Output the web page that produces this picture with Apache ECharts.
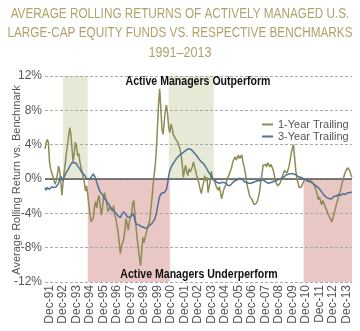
<!DOCTYPE html>
<html><head><meta charset="utf-8">
<script src="https://cdn.jsdelivr.net/npm/echarts@6/dist/echarts.min.js"></script>
<style>html,body{margin:0;padding:0;background:#fff}#c{width:360px;height:331px}</style>
</head><body><div id="c"></div>
<script>
// Monthly data, Aug-1991 .. May-2014 (percent vs. benchmark)
const startYear = 1991;
const startMonthIndex = 7; // Aug
const monthNames = ['Jan','Feb','Mar','Apr','May','Jun','Jul','Aug','Sep','Oct','Nov','Dec'];

const oneYearTrailing = [
 3.5,4.2,4.6,4.3,2.0,1.2,1.0,0.3,-0.2,-0.6,
 -0.2,0.5,1.5,1.0,-0.2,-1.9,-0.5,0.8,1.8,3.0,
 3.9,5.0,6.0,5.2,3.6,2.0,3.0,4.3,3.8,2.7,
 3.0,2.0,1.4,0.8,0.2,-0.4,-1.4,-0.8,-1.8,-3.0,
 -4.2,-5.0,-5.2,-4.5,-3.3,-2.6,-3.4,-2.4,-1.9,-3.0,
 -4.2,-3.5,-2.2,-1.6,-2.2,-3.0,-3.8,-3.6,-3.2,-3.0,
 -3.8,-3.1,-4.2,-4.6,-5.4,-6.2,-7.4,-8.7,-7.8,-7.6,
 -7.0,-6.1,-4.6,-5.2,-6.0,-5.0,-4.5,-4.2,-2.8,-2.5,
 -4.2,-5.6,-7.0,-8.0,-9.2,-10.1,-8.4,-6.8,-7.4,-7.2,
 -6.3,-5.7,-5.3,-4.9,-3.6,-2.4,-0.9,0.4,1.6,3.3,
 6.0,8.8,10.5,8.2,5.8,5.2,6.6,8.0,8.6,7.6,
 6.0,5.4,6.4,6.0,5.2,5.0,4.7,4.9,4.3,3.9,
 3.5,2.8,1.8,0.2,1.0,1.6,0.8,0.4,1.2,0.8,
 0.6,1.4,2.0,1.8,0.9,0.3,0.0,-0.6,-1.2,-1.7,
 -1.0,-0.4,0.4,-0.2,0.2,-1.6,-0.9,-0.2,0.9,0.0,
 -0.1,-0.3,-0.8,-1.0,-1.3,-0.9,-1.5,-2.3,-1.8,-1.2,
 -0.9,-0.6,0.0,0.3,0.6,1.0,1.4,2.0,2.3,2.6,
 2.2,2.4,2.8,2.4,2.6,2.8,2.0,1.5,0.8,-0.1,
 -0.9,-1.4,-2.0,-2.2,-2.4,-2.7,-3.0,-3.2,-2.8,-2.5,
 -2.0,-1.3,-0.2,0.6,1.6,1.8,1.7,1.4,1.9,1.7,
 1.4,1.7,1.5,1.0,0.4,-0.3,-0.5,-0.8,-0.6,-0.5,
 -0.1,0.3,0.5,1.0,0.8,0.7,1.0,1.5,2.2,3.0,
 3.6,4.0,2.4,1.0,0.0,-0.4,-1.0,-1.2,-0.9,-0.6,
 -0.3,0.0,-0.2,-0.2,0.0,-0.1,-0.2,-0.3,-0.5,-0.6,
 -0.9,-1.3,-1.8,-2.4,-2.1,-2.0,-3.0,-2.5,-2.8,-3.2,
 -3.4,-3.8,-4.2,-4.4,-4.7,-5.0,-4.6,-4.0,-3.6,-3.0,
 -2.6,-2.0,-1.7,-1.2,-0.6,-0.1,0.4,0.8,1.0,1.3,
 1.4,1.0,0.5,0.2
];

const threeYearTrailing = [
 -1.0,-1.3,-1.0,-0.8,-1.2,-1.0,-0.9,-1.1,-1.0,-0.9,
 -0.9,-0.7,-0.5,-0.1,0.3,0.2,-0.2,0.2,0.4,0.8,
 1.0,1.2,1.5,1.7,1.9,1.8,1.9,2.0,1.8,1.5,
 1.4,1.2,0.9,0.8,0.6,0.4,0.3,0.0,-0.2,0.0,
 0.1,0.2,0.4,0.6,0.5,0.1,-0.4,-0.8,-1.0,-1.5,
 -1.7,-1.8,-2.0,-2.3,-2.2,-2.6,-2.8,-3.0,-3.2,-3.5,
 -3.6,-3.6,-3.8,-4.0,-4.1,-4.3,-4.4,-4.5,-4.2,-4.0,
 -3.8,-4.0,-4.2,-4.3,-4.5,-4.6,-4.4,-4.2,-4.0,-4.3,
 -4.8,-5.3,-5.4,-5.3,-5.4,-5.5,-5.4,-5.6,-5.7,-5.7,
 -5.8,-5.7,-5.5,-5.4,-5.3,-5.2,-5.0,-4.8,-4.5,-4.0,
 -3.3,-2.6,-2.0,-1.8,-1.6,-1.5,-1.6,-1.4,-1.2,-0.5,
 0.4,1.0,1.3,1.6,1.8,2.0,2.2,2.4,2.5,2.7,
 2.8,2.9,3.0,3.1,3.2,3.3,3.3,3.5,3.6,3.5,
 3.4,3.3,3.1,3.0,2.9,2.7,2.5,2.3,2.1,2.0,
 1.9,1.8,1.6,1.4,1.2,0.9,0.7,0.5,0.3,0.1,
 -0.1,-0.2,-0.3,-0.4,-0.4,-0.5,-0.5,-0.4,-0.3,-0.4,
 -0.5,-0.5,-0.6,-0.8,-0.8,-0.7,-0.5,-0.4,-0.3,-0.2,
 -0.1,-0.1,0.0,0.1,0.1,0.0,-0.2,-0.3,-0.3,-0.4,
 -0.5,-0.5,-0.5,-0.5,-0.4,-0.4,-0.4,-0.3,-0.3,-0.2,
 -0.2,-0.2,-0.1,-0.1,-0.2,-0.2,-0.3,-0.4,-0.4,-0.5,
 -0.5,-0.4,-0.3,-0.3,-0.2,-0.2,-0.1,-0.1,0.0,0.0,
 0.1,0.1,0.2,0.3,0.4,0.5,0.5,0.6,0.6,0.6,
 0.6,0.6,0.5,0.5,0.4,0.3,0.3,0.2,0.1,0.1,
 0.0,0.0,-0.1,-0.2,-0.2,-0.3,-0.4,-0.4,-0.5,-0.6,
 -0.7,-0.8,-0.9,-1.0,-1.2,-1.3,-1.5,-1.7,-1.9,-2.0,
 -2.1,-2.2,-2.3,-2.3,-2.2,-2.3,-2.1,-2.0,-2.1,-2.0,
 -1.9,-1.8,-1.8,-1.9,-1.8,-1.7,-1.7,-1.8,-1.7,-1.6,
 -1.7,-1.6,-1.5,-1.5
];

// shaded periods [from, to] as month labels
const outperformPeriods = [['Dec-92','Oct-94'], ['Oct-00','Feb-04']];
const underperformPeriods = [['Oct-94','Nov-00'], ['Oct-10','May-14']];

const yTicks = { min: -12, max: 12, step: 4 };

const titleLines = [
  'AVERAGE ROLLING RETURNS OF ACTIVELY MANAGED U.S.',
  'LARGE-CAP EQUITY FUNDS VS. RESPECTIVE BENCHMARKS',
  '1991\u20132013'
];
const seriesNames = ['1-Year Trailing', '3-Year Trailing'];
const yAxisTitle = 'Average Rolling Return vs. Benchmark';
const noteTop = 'Active Managers Outperform';
const noteBottom = 'Active Managers Underperform';

const categories = [];
for (let k = 0; k < oneYearTrailing.length; k++) {
  const m = (startMonthIndex + k) % 12;
  const y = startYear + Math.floor((startMonthIndex + k) / 12);
  categories.push(monthNames[m] + '-' + String(y % 100).padStart(2, '0'));
}

const FONT = "'Liberation Sans', Arial, sans-serif";
const chart = echarts.init(document.getElementById('c'), null, { renderer: 'canvas' });

function txt(text, x, y, size, color, opts) {
  opts = opts || {};
  return {
    type: 'text', x: x, y: y, z: 50,
    scaleX: opts.scaleX || 1, rotation: opts.rotation || 0,
    style: {
      text: text, fill: color, fontSize: size, fontFamily: FONT,
      fontWeight: opts.bold ? 'bold' : 'normal',
      align: 'center', verticalAlign: 'middle',
      textAlign: 'center', textVerticalAlign: 'middle'
    }
  };
}

const areaData = [];
outperformPeriods.forEach(p => areaData.push([
  { xAxis: p[0], yAxis: 0, itemStyle: { color: '#e6e9d5' } },
  { xAxis: p[1], yAxis: yTicks.max }
]));
underperformPeriods.forEach(p => areaData.push([
  { xAxis: p[0], yAxis: yTicks.min, itemStyle: { color: '#e8c7c4' } },
  { xAxis: p[1], yAxis: 0 }
]));

chart.setOption({
  animation: false,
  backgroundColor: '#fff',
  grid: { left: 45, right: 8, top: 76, bottom: 49 },
  legend: {
    orient: 'vertical', left: 257, top: 114, itemWidth: 11, itemHeight: 2,
    itemGap: 1, icon: 'rect',
    textStyle: { fontSize: 11, color: '#555', fontFamily: FONT },
    data: seriesNames
  },
  xAxis: {
    type: 'category', data: categories, boundaryGap: false,
    axisLine: { show: false }, axisTick: { show: false }, splitLine: { show: false },
    axisLabel: {
      interval: (i, v) => v.indexOf('Dec') === 0,
      rotate: 90, fontSize: 12, color: '#555', margin: 3, fontFamily: FONT
    }
  },
  yAxis: {
    type: 'value', min: yTicks.min, max: yTicks.max, interval: yTicks.step, z: 1,
    axisLine: { show: false }, axisTick: { show: false },
    axisLabel: { formatter: '{value}%', fontSize: 12, color: '#555', margin: 3, fontFamily: FONT },
    splitLine: { lineStyle: { color: '#aaa', type: [3, 2], width: 1 } }
  },
  series: [
    {
      name: 'bands', type: 'line', data: [], z: 0, silent: true,
      markArea: { silent: true, z: 0, data: areaData }
    },
    {
      name: 'zero', type: 'line', data: [], z: 2, silent: true,
      markLine: {
        silent: true, z: 2, symbol: ['none', 'none'], label: { show: false },
        lineStyle: { color: '#555', width: 1.5, type: 'solid' },
        data: [{ yAxis: 0 }]
      }
    },
    {
      name: seriesNames[0], type: 'line', data: oneYearTrailing, z: 3,
      showSymbol: false, symbol: 'none', color: '#8e8b55',
      lineStyle: { width: 1.5, color: '#8e8b55' }
    },
    {
      name: seriesNames[1], type: 'line', data: threeYearTrailing, z: 4,
      showSymbol: false, symbol: 'none', color: '#4f7295',
      lineStyle: { width: 1.5, color: '#4f7295' }
    }
  ],
  graphic: [
    txt(titleLines[0], 180, 14, 14, '#b0a26b', { scaleX: 0.84 }),
    txt(titleLines[1], 180, 33.5, 14, '#b0a26b', { scaleX: 0.84 }),
    txt(titleLines[2], 180, 53, 14, '#b0a26b', { scaleX: 0.9 }),
    txt(yAxisTitle, 17, 180, 11, '#555', { rotation: Math.PI / 2 }),
    txt(noteTop, 198, 82, 12, '#111', { bold: true, scaleX: 0.88 }),
    txt(noteBottom, 199, 275, 12, '#111', { bold: true, scaleX: 0.88 })
  ]
});
</script>
</body></html>
